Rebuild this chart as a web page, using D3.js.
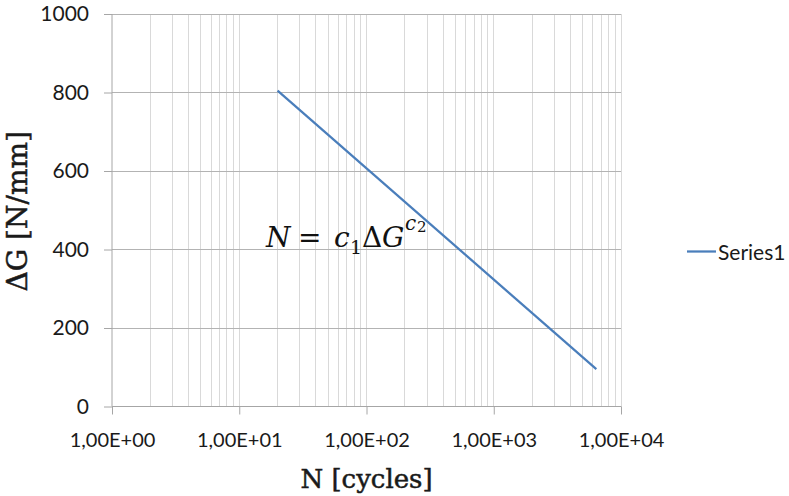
<!DOCTYPE html>
<html>
<head>
<meta charset="utf-8">
<script src="https://cdn.jsdelivr.net/npm/d3@7"></script>
<style>
  html, body { margin: 0; padding: 0; background: #fff; }
  svg { display: block; }
</style>
</head>
<body>
<svg id="chart" width="789" height="496"></svg>
<script>
// Fatigue curve: cycles N against energy release range ΔG
const cycles = [20, 6400];
const deltaG = [805, 95];
const seriesName = "Series1";
const xTicks = [1, 10, 100, 1000, 10000];
const xTickLabels = ["1,00E+00", "1,00E+01", "1,00E+02", "1,00E+03", "1,00E+04"];
const yTicks = [0, 200, 400, 600, 800, 1000];

(function () {
const svg = d3.select("#chart");
const plotLeft = 112, plotRight = 621, plotTop = 14, plotBottom = 406.5;
const tickFont = "Lato, 'Open Sans', sans-serif";
const serif = "'DejaVu Serif', 'Liberation Serif', serif";

const x = d3.scaleLog().domain([1, 10000]).range([plotLeft, plotRight]);
const y = d3.scaleLinear().domain([0, 1000]).range([plotBottom, plotTop]);

// vertical gridlines at every 1..9 step of each decade
const minor = [];
for (let d = 1; d < 10000; d *= 10) {
  for (let k = 1; k <= 9; k++) minor.push(d * k);
}
minor.push(10000);
svg.append("g").selectAll("line").data(minor.filter(v => v > 1)).join("line")
  .attr("x1", d => x(d)).attr("x2", d => x(d))
  .attr("y1", plotTop).attr("y2", plotBottom)
  .attr("stroke", "#d9d9d9").attr("stroke-width", 1)
  .attr("shape-rendering", "crispEdges");

// horizontal gridlines
svg.append("g").selectAll("line").data(yTicks.filter(v => v > 0)).join("line")
  .attr("x1", plotLeft).attr("x2", plotRight)
  .attr("y1", d => y(d)).attr("y2", d => y(d))
  .attr("stroke", "#b3b3b3").attr("stroke-width", 1)
  .attr("shape-rendering", "crispEdges");

// axes
const xAxis = d3.axisBottom(x).tickValues(xTicks)
  .tickFormat((d, i) => xTickLabels[i]).tickSize(8).tickPadding(18);
const gx = svg.append("g").attr("transform", `translate(0,${plotBottom})`).call(xAxis);
gx.select(".domain").attr("stroke", "#a6a6a6").attr("d", `M${plotLeft},0H${plotRight}`);
gx.selectAll(".tick line").attr("stroke", "#a6a6a6");
gx.selectAll(".tick text").attr("fill", "#1a1a1a")
  .style("font-family", tickFont).style("font-size", "20px");

const yAxis = d3.axisLeft(y).tickValues(yTicks).tickFormat(d3.format("d"))
  .tickSize(8).tickPadding(15);
const gy = svg.append("g").attr("transform", `translate(${plotLeft},0)`).call(yAxis);
gy.select(".domain").attr("stroke", "#a6a6a6").attr("d", `M0,${plotTop}V${plotBottom}`);
gy.selectAll(".tick line").attr("stroke", "#a6a6a6");
gy.selectAll(".tick text").attr("fill", "#1a1a1a")
  .style("font-family", tickFont).style("font-size", "21px");

// series line
const line = d3.line().x(d => x(d[0])).y(d => y(d[1]));
svg.append("path")
  .datum(cycles.map((c, i) => [c, deltaG[i]]))
  .attr("d", line)
  .attr("fill", "none").attr("stroke", "#4a7ebb").attr("stroke-width", 2.25);

// equation annotation N = c1 ΔG^c2
const eq = svg.append("text").attr("y", 247)
  .style("font-family", serif).style("font-size", "28px").attr("fill", "#111");
eq.append("tspan").attr("x", 266).style("font-style", "italic").text("N");
eq.append("tspan").attr("x", 298).text("=");
eq.append("tspan").attr("x", 334).style("font-style", "italic").text("c");
eq.append("tspan").attr("x", 350).attr("y", 254).style("font-size", "19px").text("1");
eq.append("tspan").attr("x", 362).attr("y", 247).text("Δ");
eq.append("tspan").attr("x", 382).style("font-style", "italic").text("G");
eq.append("tspan").attr("x", 405).attr("y", 230).style("font-size", "20px")
  .style("font-style", "italic").text("c");
eq.append("tspan").attr("x", 417).attr("y", 232).style("font-size", "15px").text("2");

// axis titles
svg.append("text").attr("x", (plotLeft + plotRight) / 2).attr("y", 488)
  .attr("text-anchor", "middle")
  .style("font-family", serif).style("font-size", "26px")
  .attr("fill", "#1a1a1a").attr("stroke", "#1a1a1a").attr("stroke-width", 0.5)
  .text("N [cycles]");

svg.append("text")
  .attr("transform", `translate(27,${(plotTop + plotBottom) / 2 + 1}) rotate(-90)`)
  .attr("text-anchor", "middle")
  .style("font-family", serif).style("font-size", "28px")
  .attr("fill", "#1a1a1a").attr("stroke", "#1a1a1a").attr("stroke-width", 0.5)
  .text("ΔG [N/mm]");

// legend
const lg = svg.append("g").attr("transform", "translate(687,251.5)");
lg.append("line").attr("x1", 0).attr("x2", 29).attr("y1", 0).attr("y2", 0)
  .attr("stroke", "#4a7ebb").attr("stroke-width", 2.25);
lg.append("text").attr("x", 31).attr("y", 8)
  .style("font-family", tickFont).style("font-size", "21px")
  .attr("fill", "#1a1a1a").text(seriesName);
})();
</script>
</body>
</html>
